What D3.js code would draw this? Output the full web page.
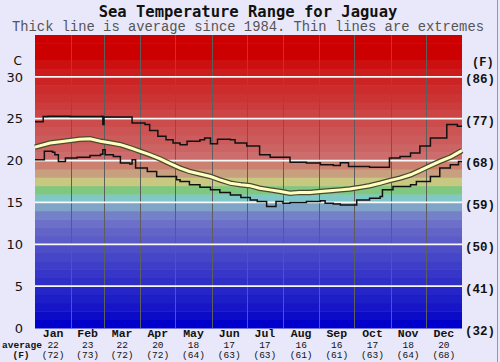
<!DOCTYPE html>
<html><head><meta charset="utf-8">
<script src="https://cdn.jsdelivr.net/npm/d3@7"></script>
<style>body{margin:0;background:#e8e8fa}svg{display:block}</style>
</head><body>
<svg id="c" width="500" height="362"></svg>
<script>
// ---- data ----
const months = ["Jan","Feb","Mar","Apr","May","Jun","Jul","Aug","Sep","Oct","Nov","Dec"];
const monthDays = [31,28,31,30,31,30,31,31,30,31,30,31];
const avgCLabels = ["22","23","22","20","18","17","17","16","16","17","18","20"];
const avgFLabels = ["(72)","(73)","(72)","(72)","(64)","(63)","(63)","(61)","(61)","(63)","(64)","(68)"];
const cTicks = [0,5,10,15,20,25,30];
const fTickLabels = ["(32)","(41)","(50)","(59)","(68)","(77)","(86)"];
// [day of year, °C]
const avgLine = [[0,21.6],[13,22.1],[25,22.3],[38,22.55],[47,22.6],[56,22.3],[65,22.1],[73,21.9],[82,21.5],[90,21.1],[98,20.7],[107,20.2],[116,19.6],[124,19.1],[132,18.7],[141,18.4],[150,18.1],[158,17.7],[167,17.3],[176,17.1],[184,17.0],[192,16.7],[201,16.5],[210,16.3],[218,16.1],[226,16.2],[235,16.2],[244,16.3],[252,16.4],[261,16.5],[269,16.6],[278,16.8],[286,17.0],[295,17.3],[303,17.6],[312,17.9],[321,18.3],[329,18.8],[338,19.4],[346,19.9],[355,20.4],[360,20.8],[365,21.2]];
const maxLine = [[0,24.65],[7,25.25],[11,25.3],[30,25.25],[57,25.3],[58,24.3],[59,25.2],[82,25.2],[83,24.5],[94,24.3],[98,23.6],[105,22.9],[112,22.5],[118,22.1],[124,21.9],[130,22.3],[141,22.5],[145,22.7],[150,22.0],[156,22.55],[167,22.5],[171,22.1],[181,21.75],[192,20.7],[201,20.4],[218,19.8],[232,19.7],[244,19.5],[255,19.4],[261,19.75],[268,19.3],[286,19.2],[303,20.3],[312,20.5],[321,20.9],[329,21.75],[338,22.7],[352,24.3],[361,24.1],[365,24.1]];
const minLine = [[0,20.1],[8,21.1],[15,21.0],[17,20.7],[20,19.9],[26,20.3],[36,20.4],[47,20.6],[56,20.75],[58,21.3],[60,20.7],[67,20.5],[73,19.7],[81,19.6],[83,20.1],[86,19.1],[96,18.7],[104,18.1],[115,18.1],[121,17.7],[124,17.5],[132,17.1],[141,16.8],[150,16.5],[158,16.2],[167,15.9],[176,15.6],[184,15.3],[190,15.1],[198,14.5],[206,15.1],[212,14.9],[218,15.0],[232,15.1],[244,15.2],[248,14.9],[255,14.8],[261,14.7],[275,15.3],[286,15.5],[295,15.7],[297,16.5],[306,16.9],[321,17.1],[326,17.5],[338,18.1],[346,19.1],[355,19.5],[362,19.9],[365,19.9]];

// ---- styles ----
const bandColors = ["#0000cc","#0c0cc8","#1616c8","#1e1ec8","#2626c8","#2e2ec8","#3636c8","#3e3ec8","#4646c8","#4e4ec8",
  "#5c5cc8","#6464c8","#6c70c8","#7480c8","#80a4c8","#80c8c8","#80c880","#c8c880","#c8a080","#cc8070",
  "#cc6c6c","#cc6464","#cc5c5c","#cc5454","#cc4c4c","#cc4444","#cc3c3c","#cc3434","#cc2c2c","#cc2424",
  "#cc1c1c","#cc1010","#cc0000","#cc0000","#cc0000"];

const svg = d3.select("#c");
const L = 35, R = 462, T = 35, B = 328;
const x = d3.scaleLinear().domain([0,365]).range([L,R]);
const y = d3.scaleLinear().domain([0,35]).range([B,T]);

svg.append("line").attr("x1",497.5).attr("x2",497.5).attr("y1",0).attr("y2",362).attr("stroke","#999");

// bands
svg.append("g").selectAll("rect").data(bandColors).join("rect")
  .attr("x",L).attr("width",R-L)
  .attr("y",(d,i)=>y(i+1)).attr("height",(d,i)=>y(i)-y(i+1)+0.5)
  .attr("fill",d=>d);

// vertical month gridlines
const bounds = [0]; monthDays.forEach((d,i)=>bounds.push(bounds[i]+d));
svg.append("g").selectAll("line").data(bounds.slice(1,12)).join("line")
  .attr("x1",d=>Math.round(x(d))+0.5).attr("x2",d=>Math.round(x(d))+0.5)
  .attr("y1",T).attr("y2",B).attr("stroke","#5e5e5e").attr("stroke-width",1);

// horizontal white gridlines
svg.append("g").selectAll("line").data(cTicks.slice(1)).join("line")
  .attr("x1",L).attr("x2",R).attr("y1",d=>y(d)).attr("y2",d=>y(d))
  .attr("stroke","#f8f8f8").attr("stroke-width",1.8);

// lines
const stepGen = d3.line().x(d=>x(d[0])).y(d=>y(d[1])).curve(d3.curveStepAfter);
const lineGen = d3.line().x(d=>x(d[0])).y(d=>y(d[1]));
svg.append("path").attr("d",stepGen(maxLine)).attr("fill","none").attr("stroke","#111").attr("stroke-width",1.5);
svg.append("path").attr("d",stepGen(minLine)).attr("fill","none").attr("stroke","#111").attr("stroke-width",1.5);
svg.append("path").attr("d",lineGen(avgLine)).attr("fill","none").attr("stroke","#4a4a30").attr("stroke-width",5.5);
svg.append("path").attr("d",lineGen(avgLine)).attr("fill","none").attr("stroke","#ffffc0").attr("stroke-width",3);

// titles
svg.append("text").attr("x",248).attr("y",17).attr("text-anchor","middle")
  .style("font","bold 15.5px 'DejaVu Sans Mono'").attr("fill","#111").text("Sea Temperature Range for Jaguay");
svg.append("text").attr("x",248).attr("y",31).attr("text-anchor","middle")
  .style("font","13.8px 'Liberation Mono'").attr("fill","#555").text("Thick line is average since 1984. Thin lines are extremes");

// left axis
const ax = d3.axisLeft(y).tickValues(cTicks).tickSize(0).tickPadding(0);
const gL = svg.append("g").attr("transform","translate(23,0)").call(ax);
gL.select(".domain").remove();
gL.selectAll("text").style("font","13px 'DejaVu Sans'").attr("fill","#111");
svg.append("text").attr("x",22).attr("y",65).attr("text-anchor","end")
  .style("font","12px 'DejaVu Sans'").attr("fill","#111").text("C");

// right axis
svg.append("g").selectAll("text").data(cTicks).join("text")
  .attr("x",465).attr("y",d=>y(d)+6.5)
  .style("font","bold 12.5px 'Liberation Mono'").attr("fill","#111").text((d,i)=>fTickLabels[i]);
svg.append("text").attr("x",472).attr("y",66)
  .style("font","bold 12px 'Liberation Mono'").attr("fill","#111").text("(F)");

// bottom labels
const mid = months.map((m,i)=>(bounds[i]+bounds[i+1])/2);
svg.append("g").selectAll("text").data(months).join("text")
  .attr("x",(d,i)=>x(mid[i])).attr("y",336.5).attr("text-anchor","middle")
  .style("font","bold 11.5px 'Liberation Mono'").attr("fill","#111").text(d=>d);
svg.append("g").selectAll("text").data(avgCLabels).join("text")
  .attr("x",(d,i)=>x(mid[i])).attr("y",347.5).attr("text-anchor","middle")
  .style("font","9.5px 'Liberation Mono'").attr("fill","#111").text(d=>d);
svg.append("g").selectAll("text").data(avgFLabels).join("text")
  .attr("x",(d,i)=>x(mid[i])).attr("y",358).attr("text-anchor","middle")
  .style("font","9.5px 'Liberation Mono'").attr("fill","#111").text(d=>d);
svg.append("text").attr("x",22).attr("y",347.5).attr("text-anchor","middle")
  .style("font","bold 9.5px 'Liberation Mono'").attr("fill","#111").text("average");
svg.append("text").attr("x",21).attr("y",358).attr("text-anchor","middle")
  .style("font","bold 9.5px 'Liberation Mono'").attr("fill","#111").text("(F)");
</script>
</body></html>
